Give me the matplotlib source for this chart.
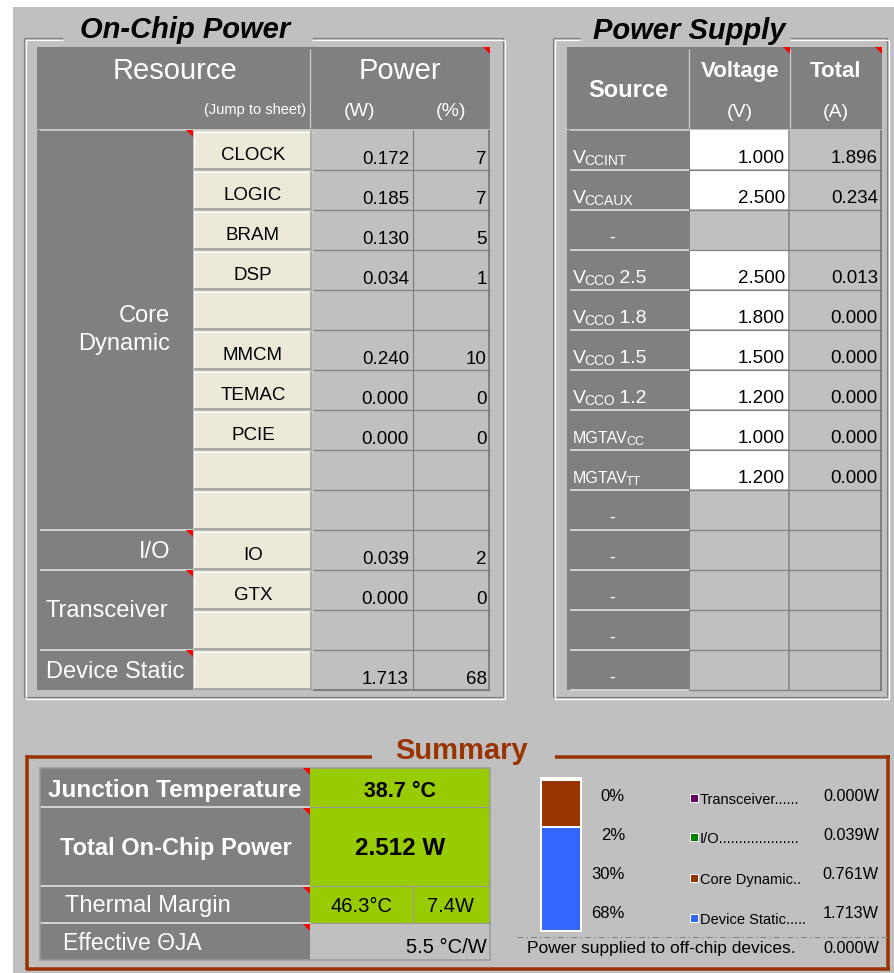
import matplotlib
matplotlib.use('Agg')
import matplotlib.pyplot as plt
from matplotlib.patches import Rectangle, Polygon

plt.rcParams['font.family'] = ['Liberation Sans', 'DejaVu Sans']

# ---------------- data ----------------
resource_names = ['CLOCK', 'LOGIC', 'BRAM', 'DSP', '', 'MMCM', 'TEMAC', 'PCIE', '', '', 'IO', 'GTX', '', '']
resource_w = [0.172, 0.185, 0.130, 0.034, None, 0.240, 0.000, 0.000, None, None, 0.039, 0.000, None, 1.713]
resource_pct = [7, 7, 5, 1, None, 10, 0, 0, None, None, 2, 0, None, 68]
group_names = ['Core\nDynamic', 'I/O', 'Transceiver', 'Device Static']
group_rows = [(0, 10), (10, 11), (11, 13), (13, 14)]

supply_main = ['V', 'V', '-', 'V', 'V', 'V', 'V', 'MGTAV', 'MGTAV', '-', '-', '-', '-', '-']
supply_sub = ['CCINT', 'CCAUX', '', 'CCO', 'CCO', 'CCO', 'CCO', 'CC', 'TT', '', '', '', '', '']
supply_suffix = ['', '', '', ' 2.5', ' 1.8', ' 1.5', ' 1.2', '', '', '', '', '', '', '']
supply_v = [1.000, 2.500, None, 2.500, 1.800, 1.500, 1.200, 1.000, 1.200, None, None, None, None, None]
supply_a = [1.896, 0.234, None, 0.013, 0.000, 0.000, 0.000, 0.000, 0.000, None, None, None, None, None]

junction_temp = 38.7
total_power = 2.512
margin_temp = 46.3
margin_power = 7.4
theta_ja = 5.5

breakdown_names = ['Transceiver', 'I/O', 'Core Dynamic', 'Device Static']
breakdown_dots = [6, 20, 2, 5]
breakdown_w = [0.000, 0.039, 0.761, 1.713]
breakdown_pct = [0, 2, 30, 68]
breakdown_colors = ['#660066', '#008000', '#993300', '#3366ff']
offchip_w = 0.000

# ---------------- style ----------------
BG = '#c0c0c0'
DARK = '#808080'
CREAM = '#ece9d8'
GREEN = '#99cc00'
BROWN = '#993300'
LIGHT = '#d0d0d0'
PX = 0.72  # points per pixel at dpi 100

W, H = 895, 973
fig = plt.figure(figsize=(W / 100, H / 100), dpi=100)
ax = fig.add_axes([0, 0, 1, 1])
ax.set_xlim(0, W)
ax.set_ylim(H, 0)
ax.axis('off')


def rect(x0, y0, x1, y1, fc, ec='none', lw=0, z=1):
    ax.add_patch(Rectangle((x0, y0), x1 - x0, y1 - y0, facecolor=fc,
                           edgecolor=ec, linewidth=lw * PX, zorder=z))


def hline(y, x0, x1, c, lw=1, z=3, **kw):
    ax.plot([x0, x1], [y, y], color=c, lw=lw * PX, zorder=z, solid_capstyle='butt', **kw)


def vline(x, y0, y1, c, lw=1, z=3):
    ax.plot([x, x], [y0, y1], color=c, lw=lw * PX, zorder=z, solid_capstyle='butt')


def txt(x, y, s, size, color='black', ha='center', va='baseline', weight='normal',
        style='normal', z=6, **kw):
    return ax.text(x, y, s, fontsize=size, color=color, ha=ha, va=va,
                   fontweight=weight, fontstyle=style, zorder=z, **kw)


def corner(x1, y0, s=7):
    ax.add_patch(Polygon([(x1 - s, y0), (x1, y0), (x1, y0 + s)], closed=True,
                         facecolor='red', edgecolor='none', zorder=7))


def groupbox(x0, y0, x1, y1, gap0, gap1):
    for off, c in ((0, DARK), (1.8, 'white')):
        hline(y0 + off, x0 + off, gap0, c, 1.2)
        hline(y0 + off, gap1, x1 + off, c, 1.2)
        vline(x0 + off, y0 + off, y1 + off, c, 1.2)
        vline(x1 + off, y0 + off, y1 + off, c, 1.2)
        hline(y1 + off, x0 + off, x1 + off, c, 1.2)


# background
rect(0, 0, W, H, 'white', z=0)
rect(13, 7, W, H, BG, z=0)

# ---------------- On-Chip Power ----------------
groupbox(24, 38, 503, 697, 63, 312)
txt(185, 38, 'On-Chip Power', 21, weight='bold', style='italic')

rect(37, 47, 490, 129, DARK)
vline(310.5, 49, 128, LIGHT, 1.2)
hline(129.5, 40, 310, LIGHT, 1.5)
corner(490, 47)
txt(175, 79, 'Resource', 21, color='white')
txt(400, 79, 'Power', 21, color='white')
txt(306, 114, '(Jump to sheet)', 10.5, color='white', ha='right')
txt(360, 116, '(W)', 14, color='white')
txt(451, 116, '(%)', 14, color='white')

ROW0, RH = 130, 40
nrows = len(resource_names)
rect(37, ROW0, 193, ROW0 + RH * nrows, DARK)
rect(312, ROW0, 490, ROW0 + RH * nrows, BG)
for i in range(nrows):
    y0 = ROW0 + RH * i
    y1 = y0 + RH
    # button
    rect(194, y0 + 1, 312, y1 - 1, CREAM, z=2)
    hline(y0 + 1.5, 194, 312, 'white', 1.2)
    vline(194.5, y0 + 1, y1 - 1, 'white', 1.2)
    hline(y1 - 1.5, 194, 312, '#9a9a9a', 1.5)
    vline(311.5, y0 + 1, y1 - 1, '#9a9a9a', 1.5)
    if resource_names[i]:
        txt(253, y1 - 9.5, resource_names[i], 13.5)
    # value grid
    hline(y1 - 0.5, 313, 490, DARK, 1.2)
    if resource_w[i] is not None:
        txt(409, y1 - 6.5, f'{resource_w[i]:.3f}', 13.5, ha='right')
    if resource_pct[i] is not None:
        txt(487, y1 - 6.5, f'{resource_pct[i]:d}', 13.5, ha='right')
vline(413.5, ROW0, ROW0 + RH * nrows, DARK, 1.2)
vline(489.5, ROW0, ROW0 + RH * nrows, DARK, 2)
hline(ROW0 + RH * nrows - 0.5, 313, 490, DARK, 2)

for name, (r0, r1) in zip(group_names, group_rows):
    y0 = ROW0 + RH * r0
    y1 = ROW0 + RH * r1
    if r0 > 0:
        hline(y0 - 0.5, 40, 193, LIGHT, 2)
    corner(193, y0)
    if name == 'Core\nDynamic':
        txt(170, (y0 + y1) / 2, name, 17, color='white', ha='right', va='center',
            multialignment='right', linespacing=1.38)
    elif name == 'I/O':
        txt(170, y1 - 12, name, 17, color='white', ha='right')
    elif name == 'Transceiver':
        txt(46, (y0 + y1) / 2 + 7, name, 17, color='white', ha='left')
    else:
        txt(46, y1 - 12, name, 17, color='white', ha='left')

# ---------------- Power Supply ----------------
groupbox(553, 38, 887, 697, 580, 790)
txt(689, 39, 'Power Supply', 21, weight='bold', style='italic')

rect(567, 47, 882, 129, DARK)
vline(689.5, 49, 128, LIGHT, 1.2)
vline(790.5, 49, 128, LIGHT, 1.2)
corner(790, 47)
corner(882, 47)
txt(628, 97, 'Source', 17, color='white', weight='bold')
txt(740, 77, 'Voltage', 16, color='white', weight='bold')
txt(836, 77, 'Total', 16, color='white', weight='bold')
txt(740, 117, '(V)', 14, color='white')
txt(836, 117, '(A)', 14, color='white')

ns = len(supply_main)
rect(567, ROW0, 689, ROW0 + RH * ns, DARK)
rect(689, ROW0, 882, ROW0 + RH * ns, BG)
hline(129.5, 570, 689, LIGHT, 1.5)

fig.canvas.draw()
renderer = fig.canvas.get_renderer()


def width_of(t):
    return t.get_window_extent(renderer).width


for i in range(ns):
    y0 = ROW0 + RH * i
    y1 = y0 + RH
    if supply_v[i] is not None:
        rect(690, y0, 790, y1 - 1, 'white', z=2)
    hline(y1 - 0.5, 570, 689, LIGHT, 2)
    hline(y1 - 0.5, 689, 882, DARK, 1.2)
    base = y1 - 7
    if supply_main[i] == '-':
        txt(612, base, '-', 13, color='white')
    else:
        big = 14 if supply_main[i] == 'V' else 11.5
        subsz = 10 if supply_main[i] == 'V' else 9
        t1 = txt(573, base, supply_main[i], big, color='white', ha='left')
        x = 573 + width_of(t1) - 1.5
        t2 = txt(x, base + 2, supply_sub[i], subsz, color='white', ha='left')
        x += width_of(t2)
        if supply_suffix[i]:
            txt(x - 1, base, supply_suffix[i], 14, color='white', ha='left')
    if supply_v[i] is not None:
        txt(785, base, f'{supply_v[i]:.3f}', 13.5, ha='right')
    if supply_a[i] is not None:
        txt(878, base, f'{supply_a[i]:.3f}', 13.5, ha='right')
vline(789.5, ROW0, ROW0 + RH * ns, DARK, 1.5)
vline(881.5, ROW0, ROW0 + RH * ns, DARK, 2)
vline(689.5, ROW0, ROW0 + RH * ns, DARK, 1)

# ---------------- Summary ----------------
hline(757, 26, 372, BROWN, 3.5)
hline(757, 555, 890, BROWN, 3.5)
vline(27.5, 755, 970, BROWN, 3.5)
vline(888.5, 755, 970, BROWN, 3.5)
hline(968.5, 26, 890, BROWN, 3.5)
txt(462, 759, 'Summary', 21, color=BROWN, weight='bold')

rect(40, 768, 310, 960, DARK)
rect(310, 768, 490, 886, GREEN)
rect(310, 886, 490, 923, GREEN)
rect(310, 923, 490, 960, BG)
for yy in (807, 886, 923):
    hline(yy, 40, 310, LIGHT, 2)
    hline(yy, 310, 490, '#9a9a9a', 1.2)
vline(413, 886, 923, '#9a9a9a', 1.2)
ax.add_patch(Rectangle((40, 768), 450, 192, facecolor='none', edgecolor='#9a9a9a',
                       linewidth=1.5 * PX, zorder=4))
for yy in (768, 808, 887, 924):
    corner(310, yy)

txt(175, 797, 'Junction Temperature', 17.5, color='white', weight='bold')
txt(176, 855, 'Total On-Chip Power', 17, color='white', weight='bold')
txt(65, 912, 'Thermal Margin', 17, color='white', ha='left')
txt(63, 950, 'Effective ΘJA', 16.5, color='white', ha='left')
txt(400, 797, f'{junction_temp:.1f} °C', 15.5, weight='bold')
txt(400, 855, f'{total_power:.3f} W', 17.5, weight='bold')
txt(362, 912, f'{margin_temp:.1f}°C', 14.5)
txt(451, 912, f'{margin_power:.1f}W', 14.5)
txt(487, 953, f'{theta_ja:.1f} °C/W', 14.5, ha='right')

# stacked bar (bottom: Device Static ... top: Transceiver)
bx0, bx1, by0, by1 = 541, 581, 778, 931
bar_ax = fig.add_axes([bx0 / W, 1 - by1 / H, (bx1 - bx0) / W, (by1 - by0) / H])
bar_ax.set_xlim(-0.5, 0.5)
bar_ax.set_ylim(0, sum(breakdown_w))
bar_ax.axis('off')
bottom = 0.0
for val, col in zip(breakdown_w[::-1], breakdown_colors[::-1]):
    if val > 0:
        bar_ax.bar(0, val, bottom=bottom, width=1.0, color=col, edgecolor='white',
                   linewidth=2 * PX, clip_on=False)
    bottom += val

val_base = [801, 840, 879, 918]
lab_base = [804, 843, 884, 924]
for i, name in enumerate(breakdown_names):
    txt(625, val_base[i], f'{breakdown_pct[i]}%', 12, ha='right')
    ax.add_patch(Rectangle((690, lab_base[i] - 10), 8, 8, facecolor=breakdown_colors[i],
                           edgecolor='white', linewidth=1 * PX, zorder=6))
    txt(700, lab_base[i], name + '.' * breakdown_dots[i], 10.5, ha='left')
    txt(879, val_base[i], f'{breakdown_w[i]:.3f}W', 11.7, ha='right')

ax.plot([517, 887], [937, 937], color=DARK, lw=1 * PX, zorder=4,
        linestyle=(0, (6, 3, 1.5, 3)))
txt(527, 953, 'Power supplied to off-chip devices.', 12.5, ha='left')
txt(879, 953, f'{offchip_w:.3f}W', 11.7, ha='right')

fig.savefig('out.png', dpi=100)
